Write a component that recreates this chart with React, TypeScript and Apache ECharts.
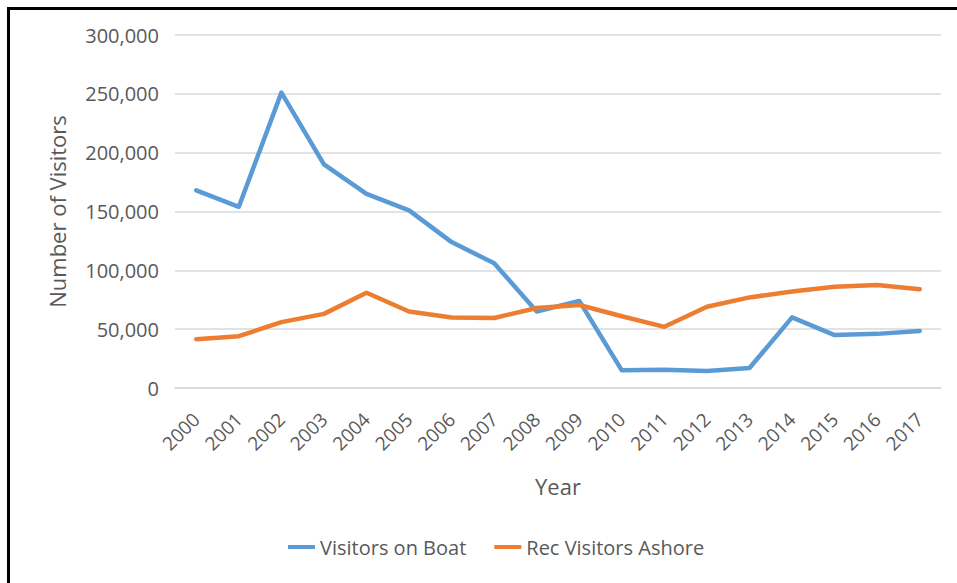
import React, { useEffect, useRef } from "react";
import * as echarts from "echarts";

const years = ["2000","2001","2002","2003","2004","2005","2006","2007","2008","2009","2010","2011","2012","2013","2014","2015","2016","2017"];
const visitorsOnBoat = [168000,154000,251000,190000,165000,151000,124000,106000,65000,74000,15000,15500,14500,17000,60000,45000,46000,48500];
const recVisitorsAshore = [41500,44000,56000,63000,81000,65000,60000,59500,68000,70500,61000,52000,69000,77000,82000,86000,87500,84000];
const seriesNames = ["Visitors on Boat", "Rec Visitors Ashore"];
const FONT = "Open Sans";

export default function App() {
  const ref = useRef<HTMLDivElement>(null);
  useEffect(() => {
    document.body.style.margin = "0";
    const chart = echarts.init(ref.current!, null, { renderer: "svg" });
    chart.setOption({
      animation: false,
      backgroundColor: "#ffffff",
      textStyle: { fontFamily: FONT, color: "#595959" },
      graphic: [
        {
          type: "rect",
          shape: { x: 8.5, y: 8.5, width: 1000, height: 700 },
          style: { fill: "none", stroke: "#000000", lineWidth: 3 },
          silent: true,
        },
      ],
      grid: { left: 175, right: 16, top: 35, bottom: 195, containLabel: false },
      legend: {
        left: 283,
        top: 532,
        icon: "rect",
        itemWidth: 27,
        itemHeight: 4,
        itemGap: 28,
        textStyle: { fontFamily: FONT, fontSize: 20, color: "#595959" },
        data: seriesNames,
      },
      xAxis: {
        type: "category",
        data: years,
        boundaryGap: true,
        name: "Year",
        nameLocation: "middle",
        nameGap: 87,
        nameTextStyle: { fontFamily: FONT, fontSize: 22, color: "#595959" },
        axisLine: { show: true, lineStyle: { color: "#D9D9D9", width: 1.5 } },
        axisTick: { show: false },
        axisLabel: { rotate: 45, margin: 28, fontFamily: FONT, fontSize: 19, color: "#595959", interval: 0 },
      },
      yAxis: {
        type: "value",
        min: 0,
        max: 300000,
        interval: 50000,
        name: "Number of Visitors",
        nameLocation: "middle",
        nameGap: 107,
        nameTextStyle: { fontFamily: FONT, fontSize: 22, color: "#595959" },
        axisLine: { show: false },
        axisTick: { show: false },
        splitLine: { lineStyle: { color: "#D9D9D9", width: 1.5 } },
        axisLabel: {
          margin: 16,
          fontFamily: FONT,
          fontSize: 20,
          color: "#595959",
          formatter: (v: number) => v.toLocaleString("en-US"),
        },
      },
      series: [
        {
          name: seriesNames[0],
          type: "line",
          data: visitorsOnBoat,
          symbol: "none",
          lineStyle: { color: "#5B9BD5", width: 4.5, join: "round", cap: "round" },
          itemStyle: { color: "#5B9BD5" },
        },
        {
          name: seriesNames[1],
          type: "line",
          data: recVisitorsAshore,
          symbol: "none",
          lineStyle: { color: "#ED7D31", width: 4.5, join: "round", cap: "round" },
          itemStyle: { color: "#ED7D31" },
        },
      ],
    });
    return () => chart.dispose();
  }, []);
  return <div ref={ref} style={{ width: 957, height: 583 }} />;
}
